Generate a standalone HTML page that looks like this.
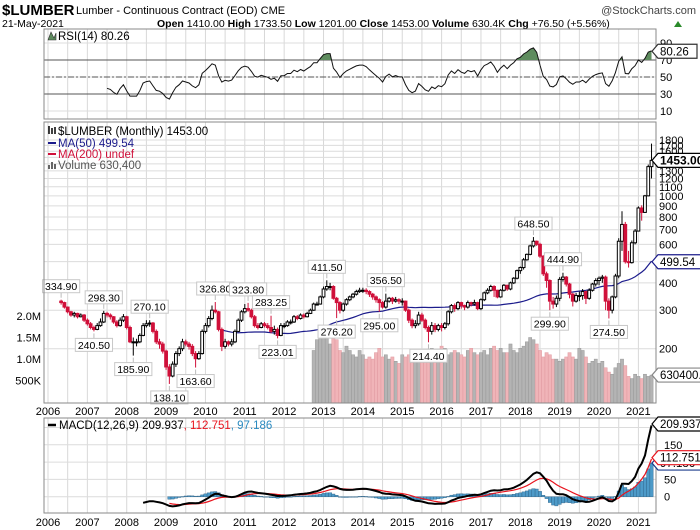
<!DOCTYPE html>
<html><head><meta charset="utf-8"><style>
body{margin:0;background:#fff;}
svg{display:block;font-family:"Liberation Sans",sans-serif;}
</style></head><body>
<svg id="c" width="700" height="530" viewBox="0 0 700 530" xmlns="http://www.w3.org/2000/svg">
<rect width="700" height="530" fill="#fff"/>
<text x="2" y="15" font-size="15" font-weight="bold">$LUMBER</text>
<text x="76" y="14" font-size="11">Lumber - Continuous Contract (EOD) CME</text>
<text x="696" y="14" font-size="11" fill="#444" text-anchor="end">@StockCharts.com</text>
<text x="2" y="27" font-size="10.5">21-May-2021</text>
<text x="157" y="27" font-size="10.5"><tspan font-weight="bold">Open</tspan> 1410.00 <tspan font-weight="bold">High</tspan> 1733.50 <tspan font-weight="bold">Low</tspan> 1201.00 <tspan font-weight="bold">Close</tspan> 1453.00 <tspan font-weight="bold">Volume</tspan> 630.4K <tspan font-weight="bold">Chg</tspan> +76.50 (+5.56%)</text>
<path d="M674 27 L682 27 L678 21 Z" fill="#2a8a2a"/>
<g id="g"></g>
</svg>
<script>
const closes=[325,310,295,285,290,280,285,270,
260,250,245,255,265,290,285,280,265,255,270,280,
250,215,215,215,230,255,260,262,240,215,210,195,
165,150,170,190,200,215,210,205,190,180,190,240,
255,275,300,295,245,205,215,210,215,240,270,295,
305,300,280,255,250,260,255,250,240,245,230,255,
255,265,265,280,275,285,280,290,300,320,320,345,
375,385,385,340,325,300,320,335,345,355,365,370,
370,365,355,345,335,325,310,330,340,330,335,330,
330,300,270,255,260,285,270,250,240,255,245,255,
250,260,295,315,305,325,315,310,325,320,325,305,
335,360,370,385,370,345,370,390,375,400,420,455,
470,510,540,590,620,600,530,440,410,330,320,340,
415,425,395,355,330,350,350,365,340,370,395,410,
420,425,330,300,345,430,620,740,500,495,610,690,
880,840,1000,1360,1453];
const highs=[335,328,312,298,295,292,290,288,
275,265,255,262,275,298,295,290,282,270,278,288,
283,255,225,222,235,262,270,270,265,245,222,215,
198,170,175,195,205,222,220,215,210,195,195,245,
262,282,315,327,298,250,222,218,222,245,275,300,
320,324,305,285,262,265,265,262,283,255,250,262,
262,270,272,285,285,290,290,295,305,325,328,350,
385,411,400,390,345,330,325,340,350,360,372,380,
380,378,370,360,350,340,330,357,345,345,345,340,
340,332,305,275,270,295,292,275,255,265,262,260,
262,265,300,320,322,330,328,318,332,328,335,328,
340,365,378,392,390,372,375,395,392,405,425,460,
475,520,545,598,648,625,610,535,450,415,345,350,
425,445,430,400,360,360,365,375,368,378,400,420,
428,435,432,340,350,440,640,850,760,560,625,705,
895,905,1010,1390,1733];
const lows=[318,305,290,280,278,275,278,265,
255,245,240,243,252,262,278,272,260,250,252,265,
245,212,186,205,212,228,250,252,235,210,200,190,
160,138,148,165,185,195,205,198,185,164,178,188,
235,250,270,290,240,195,200,205,205,212,238,265,
290,295,275,250,245,248,250,245,235,232,223,228,
248,252,258,262,270,272,275,278,288,298,315,318,
340,368,370,335,276,290,295,315,330,340,350,360,
360,355,345,335,325,295,305,305,325,320,325,320,
315,295,262,248,248,255,265,245,214,232,238,240,
240,245,255,290,295,300,305,300,305,312,315,300,
300,330,355,365,345,340,342,365,368,370,395,415,
440,460,505,535,580,590,520,430,380,300,305,310,
330,405,385,340,312,325,330,335,320,335,365,385,
390,400,300,275,290,340,420,560,490,470,490,600,
690,770,835,995,1201];
const firstOpen=330;
const volumes=[1200,1450,1500,
1500,1520,1350,1550,1450,1200,1150,1300,1200,1100,1050,1200,
1100,1000,1050,1000,1150,1250,1050,1100,1000,1050,950,900,
1100,1050,1100,1000,950,1150,1100,1000,1100,1250,1200,1150,
1300,1250,1100,1150,1200,1150,1100,1050,1200,1250,1150,1100,
1150,1200,1100,1250,1300,1200,1250,1150,1150,1350,1200,1150,
1250,1300,1400,1500,1450,1350,1200,1050,1150,1100,1000,1000,
950,1000,1050,1150,1050,1000,1250,1200,1050,900,950,1000,
900,950,800,700,650,800,900,1000,850,600,550,650,
600,550,650,600,630];
const volStartIndex=77;
const years=[2006,2007,2008,2009,2010,2011,2012,2013,2014,2015,2016,2017,2018,2019,2020,2021];
const priceTicks=[200,300,400,600,700,800,900,1000,1100,1200,1300,1600,1700,1800];
const priceGrid=[200,300,400,500,600,700,800,900,1000,1100,1200,1300,1400,1500,1600,1700,1800];
const volTicks=[500,1000,1500,2000];
const volTickLabels=["500K","1.0M","1.5M","2.0M"];
const rsiTicks=[10,30,50,70,90];
const macdTicks=[0,50,150];
const annoValues=["334.90","298.30","240.50","270.10","185.90","138.10","163.60","326.80","323.80","283.25","223.01","411.50","276.20","356.50","295.00","214.40","648.50","299.90","444.90","274.50"];
const annoIndex=[0,13,10,27,22,33,41,47,57,64,66,81,84,99,97,112,144,149,153,167];
const annoSide=["up","up","dn","up","dn","dn","dn","up","up","up","dn","up","dn","up","dn","dn","up","dn","up","dn"];

const NS="http://www.w3.org/2000/svg";
const G=document.getElementById('g');
function mk(t,a,parent){const e=document.createElementNS(NS,t);for(const k in a)e.setAttribute(k,a[k]);(parent||G).appendChild(e);return e;}
const L=44,R=656,startMonth=4;
const xM=m=>48+m*3.28;
const xI=i=>xM(i+startMonth);
const yP=p=>348.7-218.7*Math.log10(p/200);
const yV=v=>402.3-v*0.0432;
const yR=v=>111-(v-10)*0.85;
const yMd=v=>496.7-v*0.346;
const MT=122,MB=403,RT=29,RB=119,DT=418,DB=513;
const opens=closes.map((c,i)=>i===0?firstOpen:closes[i-1]);

const defs=mk('defs',{});
[['cm',MT,MB],['cr',RT,RB],['cd',DT,DB]].forEach(([id,t,b])=>{const cp=mk('clipPath',{id:id},defs);mk('rect',{x:L,y:t,width:R-L,height:b-t},cp);});

function vgrid(t,b){years.forEach((y,k)=>{for(let h=0;h<2;h++){const x=xM(k*12+h*6);if(x>L&&x<R){const ln=mk('line',{x1:x,x2:x,y1:t,y2:b,stroke:'#d8d8d8','stroke-width':1});

}}});}
vgrid(RT,RB);vgrid(MT,MB);vgrid(DT,DB);
priceGrid.forEach(p=>{const y=yP(p);if(y>MT&&y<MB){const ln=mk('line',{x1:L,x2:R,y1:y,y2:y,stroke:'#dcdcdc'});

}});
rsiTicks.forEach(v=>{const ln=mk('line',{x1:L,x2:R,y1:yR(v),y2:yR(v),stroke:'#dcdcdc'});

});
[0,50,100,150,200].forEach(v=>{const ln=mk('line',{x1:L,x2:R,y1:yMd(v),y2:yMd(v),stroke:'#dcdcdc'});

});

[[70,'none'],[30,'none'],[50,'6,2,2,2']].forEach(([v,d])=>{const ln=mk('line',{x1:L,x2:R,y1:yR(v),y2:yR(v),stroke:'#555','stroke-dasharray':d});

});

const vg=mk('g',{'clip-path':'url(#cm)'});
volumes.forEach((v,k)=>{const i=volStartIndex+k;const up=closes[i]>=closes[i-1];const y=yV(v);
const r=mk('rect',{x:xI(i)-1.6,y:y,width:3.2,height:MB-y,fill:up?'#b4b4b4':'#f0b4b8',stroke:up?'#999':'#e09aa0','stroke-width':0.5},vg);

});

const ma=[];for(let i=0;i<closes.length;i++){if(i>=49){let s=0;for(let j=i-49;j<=i;j++)s+=closes[j];ma.push([i,s/50]);}}
const maP=mk('path',{d:ma.map((p,k)=>(k?'L':'M')+xI(p[0]).toFixed(1)+' '+yP(p[1]).toFixed(1)).join(''),fill:'none',stroke:'#1c1c8c','stroke-width':1.2,'clip-path':'url(#cm)'});



const cg=mk('g',{'clip-path':'url(#cm)'});
closes.forEach((c,i)=>{const o=opens[i],x=xI(i),up=c>=o;const col=up?'#000':'#d0103a';
const w=mk('line',{x1:x,x2:x,y1:yP(highs[i]),y2:yP(lows[i]),stroke:col,'stroke-width':1},cg);


const t=yP(Math.max(o,c)),b=yP(Math.min(o,c));
const r=mk('rect',{x:x-1.4,y:t,width:2.8,height:Math.max(b-t,1),fill:up?'#fff':'#d0103a',stroke:col,'stroke-width':1},cg);

});

annoValues.forEach((s,k)=>{const i=annoIndex[k],x=xI(i),up=annoSide[k]==='up';
const yy=up?yP(highs[i])-7:yP(lows[i])+7;const bw=s.length*5.7+3;const by=up?yy-13:yy;
const gg=mk('g',{});


mk('line',{x1:x,x2:x,y1:up?yy:yy-5,y2:up?yy+5:yy,stroke:'#bbb'},gg);
mk('rect',{x:x-bw/2,y:by,width:bw,height:13,fill:'#fff',stroke:'#c8c8c8'},gg);
const t=mk('text',{x:x,y:by+10.5,'font-size':10.5,'text-anchor':'middle'},gg);t.textContent=s;});

const rsi=[];{let ag=0,al=0;for(let i=1;i<closes.length;i++){const d=closes[i]-closes[i-1];const g=Math.max(d,0),l=Math.max(-d,0);
if(i<=14){ag+=g/14;al+=l/14;if(i===14)rsi.push([i,100-100/(1+ag/(al||1e-9))]);}
else{ag=(ag*13+g)/14;al=(al*13+l)/14;rsi.push([i,100-100/(1+ag/(al||1e-9))]);}}}
const rg=mk('g',{'clip-path':'url(#cr)'});
const rd=rsi.map((p,k)=>(k?'L':'M')+xI(p[0]).toFixed(1)+' '+yR(p[1]).toFixed(1)).join('');
const cpA=mk('clipPath',{id:'above70'},defs);mk('rect',{x:L,y:RT,width:R-L,height:yR(70)-RT},cpA);
const ra=mk('path',{d:rd+'L'+xI(rsi[rsi.length-1][0])+' '+yR(70)+'L'+xI(rsi[0][0])+' '+yR(70)+'Z',fill:'#5e8c5e','clip-path':'url(#above70)'},rg);


const rl=mk('path',{d:rd,fill:'none',stroke:'#111','stroke-width':1},rg);



function ema(arr,n){const k=2/(n+1);const out=[];let e=null;for(let i=0;i<arr.length;i++){if(arr[i]==null){out.push(null);continue;}e=e==null?arr[i]:arr[i]*k+e*(1-k);out.push(e);}return out;}
const e12=ema(closes,12),e26=ema(closes,26);
const macd=closes.map((c,i)=>i>=25?e12[i]-e26[i]:null);
const sig=ema(macd,9);
const dg=mk('g',{'clip-path':'url(#cd)'});
for(let i=33;i<closes.length;i++){const h=macd[i]-sig[i];const y0=yMd(0),y1=yMd(h);
const r=mk('rect',{x:xI(i)-1.64,y:Math.min(y0,y1),width:3.28,height:Math.max(Math.abs(y1-y0),0.5),fill:'#4d9ac8',stroke:'#2b5f84','stroke-width':0.4},dg);

}
const sp=mk('path',{d:sig.map((v,i)=>[i,v]).filter(p=>p[0]>=33).map((p,k)=>(k?'L':'M')+xI(p[0]).toFixed(1)+' '+yMd(p[1]).toFixed(1)).join(''),fill:'none',stroke:'#e8141e','stroke-width':1.2},dg);


const mp=mk('path',{d:macd.map((v,i)=>[i,v]).filter(p=>p[1]!=null).map((p,k)=>(k?'L':'M')+xI(p[0]).toFixed(1)+' '+yMd(p[1]).toFixed(1)).join(''),fill:'none',stroke:'#000','stroke-width':2},dg);



[[RT,RB],[MT,MB],[DT,DB]].forEach(([t,b])=>{const r=mk('rect',{x:L,y:t,width:R-L,height:b-t,fill:'none',stroke:'#8a8a8a'});

});

function txt(x,y,s,o){const t=mk('text',Object.assign({x:x,y:y,'font-size':11},o||{}));t.textContent=s;return t;}
years.forEach((yv,k)=>{const x=xM(k*12);
const a=txt(x,415,String(yv),{'text-anchor':'middle'});


const b=txt(x,526,String(yv),{'text-anchor':'middle'});

});
priceTicks.forEach(p=>{const t=txt(659,yP(p)+4,String(p));

});
volTicks.forEach((v,k)=>{const t=txt(41,yV(v)+4,volTickLabels[k],{'text-anchor':'end'});

});
rsiTicks.forEach(v=>{const t=txt(660,yR(v)+4,String(v));

});
macdTicks.forEach(v=>{const t=txt(664,yMd(v)+4,String(v));

});

function tag(y,s,col,bold,name){const gg=mk('g',{});


const w=s.length*6.6+6;mk('path',{d:`M652 ${y} L658 ${y-7} L${658+w} ${y-7} L${658+w} ${y+7} L658 ${y+7} Z`,fill:'#fff',stroke:col,'stroke-width':1.2},gg);
const t=mk('text',{x:660,y:y+4,'font-size':bold?12:11.5,'font-weight':bold?'bold':'normal'},gg);t.textContent=s;}
tag(yMd(97.186),'97.186','#1c3c8c',false,'macd-hist-tag');
tag(yMd(112.751),'112.751','#e8141e',false,'macd-signal-tag');
tag(424,'209.937','#000',false,'macd-value-tag');
tag(yP(499.54),'499.54','#1c1c8c',false,'ma50-tag');
tag(yV(630.4),'630400.0','#888',false,'volume-tag');
tag(yP(1453),'1453.00','#000',true,'last-price-tag');
tag(yR(80.26),'80.26','#333',false,'rsi-value-tag');

let t;
t=txt(58,40,'RSI(14) 80.26',{'font-size':11.5});
mk('path',{d:'M48 40 L51 32 L54 38 L56 33 L56 40Z',fill:'#5e8c5e',stroke:'#333','stroke-width':0.6});
t=txt(58,135,'$LUMBER (Monthly) 1453.00',{'font-size':11.5});
mk('path',{d:'M49 126v8M52 128v6M55 127v7',stroke:'#000','stroke-width':1.5});
mk('line',{x1:48,x2:56,y1:143,y2:143,stroke:'#1c1c8c','stroke-width':2});
t=txt(58,147,'MA(50) 499.54',{'font-size':11.5,fill:'#1c1c8c'});
mk('line',{x1:48,x2:56,y1:154,y2:154,stroke:'#d0103a','stroke-width':2});
t=txt(58,158,'MA(200) undef',{'font-size':11.5,fill:'#d0103a'});
mk('path',{d:'M48 169v-4h2v4M51 169v-7h2v7M54 169v-5h2v5',fill:'#666'});
t=txt(58,169,'Volume 630,400',{'font-size':11.5,fill:'#555'});
mk('line',{x1:48,x2:56,y1:425,y2:425,stroke:'#000','stroke-width':2.5});
t=mk('text',{x:59,y:429,'font-size':11.5});t.innerHTML='MACD(12,26,9) 209.937<tspan fill="#e8141e">, 112.751</tspan><tspan fill="#2a8ac0">, 97.186</tspan>';


</script>
</body></html>
